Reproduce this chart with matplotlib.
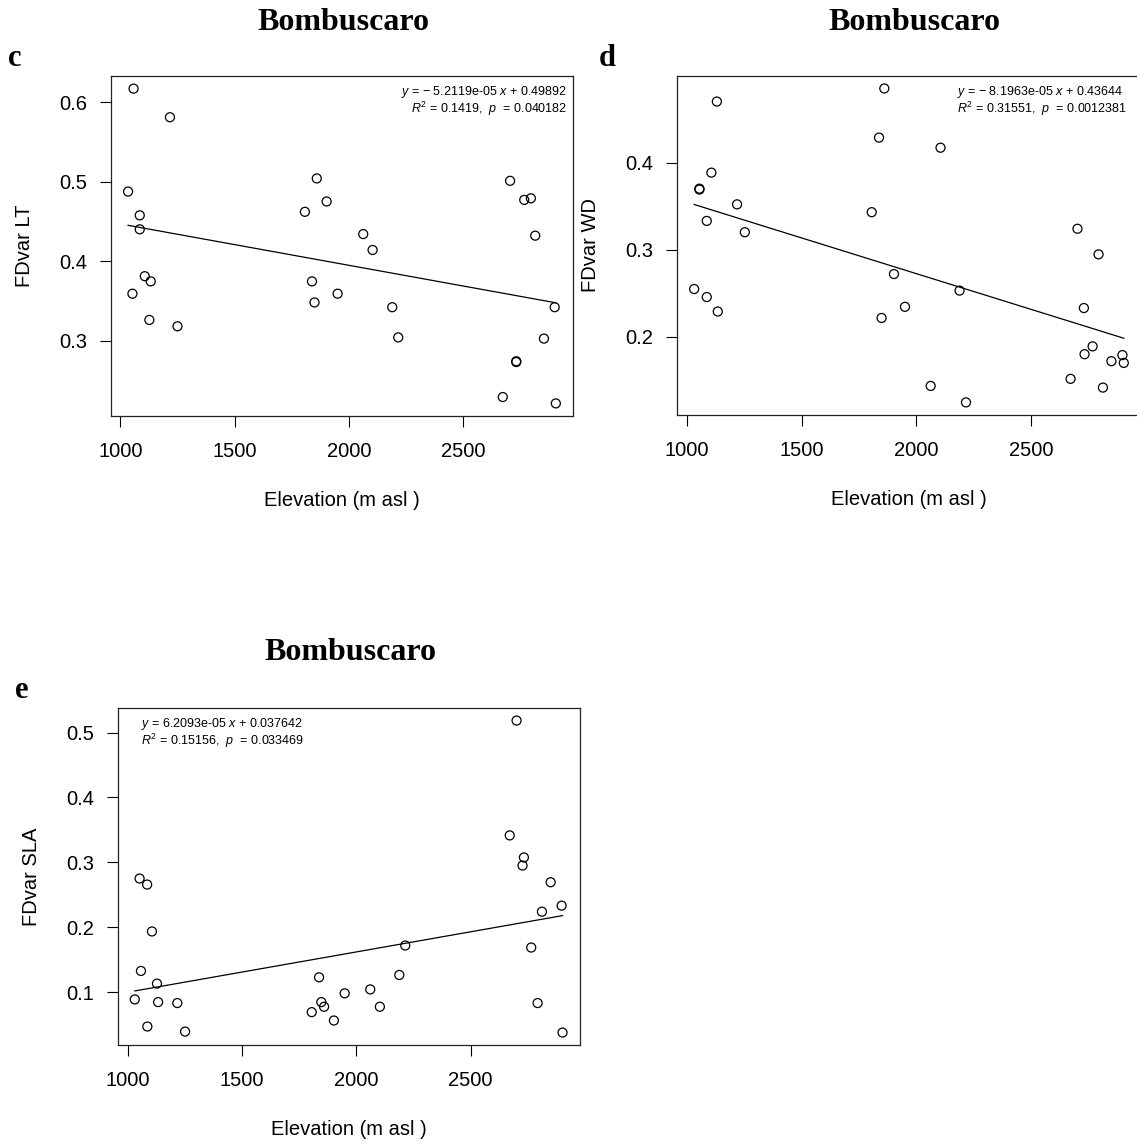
import matplotlib.pyplot as plt
import numpy as np

plt.rcParams['font.family'] = ['Liberation Sans', 'DejaVu Sans']
plt.rcParams['mathtext.fontset'] = 'custom'
plt.rcParams['mathtext.rm'] = 'Liberation Sans'
plt.rcParams['mathtext.it'] = 'Liberation Sans:italic'

# panel c: FDvar LT
c_elev = [1058, 1217, 1034, 1085, 1085, 1107, 1133, 1053, 1127, 1250,
          1859, 1902, 1807, 1838, 1849, 1950, 2062, 2103, 2189, 2215,
          2704, 2766, 2795, 2814, 2899, 2852, 2731, 2731, 2672, 2904]
c_val = [0.617, 0.581, 0.4875, 0.4576, 0.440, 0.381, 0.3745, 0.359, 0.326, 0.318,
         0.504, 0.475, 0.462, 0.3745, 0.348, 0.359, 0.434, 0.414, 0.342, 0.304,
         0.501, 0.477, 0.479, 0.432, 0.342, 0.3025, 0.273, 0.274, 0.229, 0.221]
c_slope, c_icpt = -5.2119e-05, 0.49892

# panel d: FDvar WD
d_elev = [1861, 1131, 1838, 2106, 1107, 1055, 1055, 1219, 1087, 1253,
          1806, 1032, 1087, 1135, 1903, 1951, 1849, 2189, 2063, 2217,
          2703, 2795, 2731, 2769, 2734, 2851, 2899, 2905, 2673, 2814]
d_val = [0.485, 0.470, 0.4286, 0.417, 0.3884, 0.370, 0.369, 0.352, 0.333, 0.320,
         0.343, 0.2548, 0.2456, 0.229, 0.272, 0.2344, 0.2216, 0.253, 0.1436, 0.1247,
         0.324, 0.2946, 0.233, 0.189, 0.180, 0.172, 0.179, 0.170, 0.1517, 0.1417]
d_slope, d_icpt = -8.1963e-05, 0.43644

# panel e: FDvar SLA
e_elev = [2701, 2671, 2733, 2727, 2850, 2898, 2812, 2765, 2793, 2902,
          1052, 1085, 1106, 1058, 1128, 1031, 1133, 1217, 1086, 1251,
          1837, 1847, 1859, 1805, 1902, 1949, 2061, 2103, 2188, 2214]
e_val = [0.5186, 0.3415, 0.3075, 0.295, 0.2693, 0.2332, 0.2239, 0.1686, 0.083, 0.0375,
         0.275, 0.2657, 0.1934, 0.1325, 0.113, 0.0886, 0.0845, 0.083, 0.0468, 0.039,
         0.1227, 0.0845, 0.0773, 0.069, 0.0561, 0.098, 0.104, 0.0773, 0.1263, 0.1717]
e_slope, e_icpt = 6.2093e-05, 0.037642

panels = [
    ('c', 'FDvar LT', c_elev, c_val, c_slope, c_icpt,
     [r'$y$ = − 5.2119e-05 $x$ + 0.49892', r'$R^2$ = 0.1419,  $p$  = 0.040182'],
     [0.0976, 0.6367, 0.4063, 0.2969], [0.6, 0.5, 0.4, 0.3], 'right', 0.987),
    ('d', 'FDvar WD', d_elev, d_val, d_slope, d_icpt,
     [r'$y$ = − 8.1963e-05 $x$ + 0.43644', r'$R^2$ = 0.31551,  $p$  = 0.0012381'],
     [0.5954, 0.6376, 0.4081, 0.2961], [0.4, 0.3, 0.2], 'left', 0.603),
    ('e', 'FDvar SLA', e_elev, e_val, e_slope, e_icpt,
     [r'$y$ = 6.2093e-05 $x$ + 0.037642', r'$R^2$ = 0.15156,  $p$  = 0.033469'],
     [0.1035, 0.0873, 0.4063, 0.2943], [0.5, 0.4, 0.3, 0.2, 0.1], 'left', 0.05),
]

fig = plt.figure(figsize=(11.37, 11.45), dpi=100)

for letter, ylab, xs, ys, m, b, eq, rect, yticks, ha, tx in panels:
    ax = fig.add_axes(rect)
    xs = np.array(xs)
    ax.scatter(xs, ys, s=42, facecolors='none', edgecolors='black', linewidths=0.9)
    xl = np.array([xs.min(), xs.max()])
    ax.plot(xl, m * xl + b, color='black', lw=0.9)
    ax.margins(0.04)
    ax.set_xticks([1000, 1500, 2000, 2500])
    ax.set_yticks(yticks)
    ax.tick_params(direction='out', length=8, width=0.8, labelsize=14.5, pad=9)
    ax.tick_params(axis='x', pad=11)
    for sp in ax.spines.values():
        sp.set_linewidth(0.9)
        sp.set_color('#222222')
    ax.set_xlabel('Elevation (m asl )', fontsize=14.5, labelpad=21)
    ax.set_ylabel(ylab, fontsize=14.5, labelpad=18)
    ax.text(tx, 0.952, eq[0], transform=ax.transAxes, ha=ha, va='center', fontsize=9)
    ax.text(tx, 0.902, eq[1], transform=ax.transAxes, ha=ha, va='center', fontsize=9)

serif = ['Liberation Serif', 'DejaVu Serif']
fig.text(343 / 1137, 1 - 22 / 1145, 'Bombuscaro', family=serif, weight='bold', fontsize=23, ha='center', va='center')
fig.text(914 / 1137, 1 - 22 / 1145, 'Bombuscaro', family=serif, weight='bold', fontsize=23, ha='center', va='center')
fig.text(350 / 1137, 1 - 652 / 1145, 'Bombuscaro', family=serif, weight='bold', fontsize=23, ha='center', va='center')
fig.text(15 / 1137, 1 - 58 / 1145, 'c', family=serif, weight='bold', fontsize=22, ha='center', va='center')
fig.text(607 / 1137, 1 - 58 / 1145, 'd', family=serif, weight='bold', fontsize=22, ha='center', va='center')
fig.text(22 / 1137, 1 - 690 / 1145, 'e', family=serif, weight='bold', fontsize=22, ha='center', va='center')

fig.savefig('out.png', dpi=100)
